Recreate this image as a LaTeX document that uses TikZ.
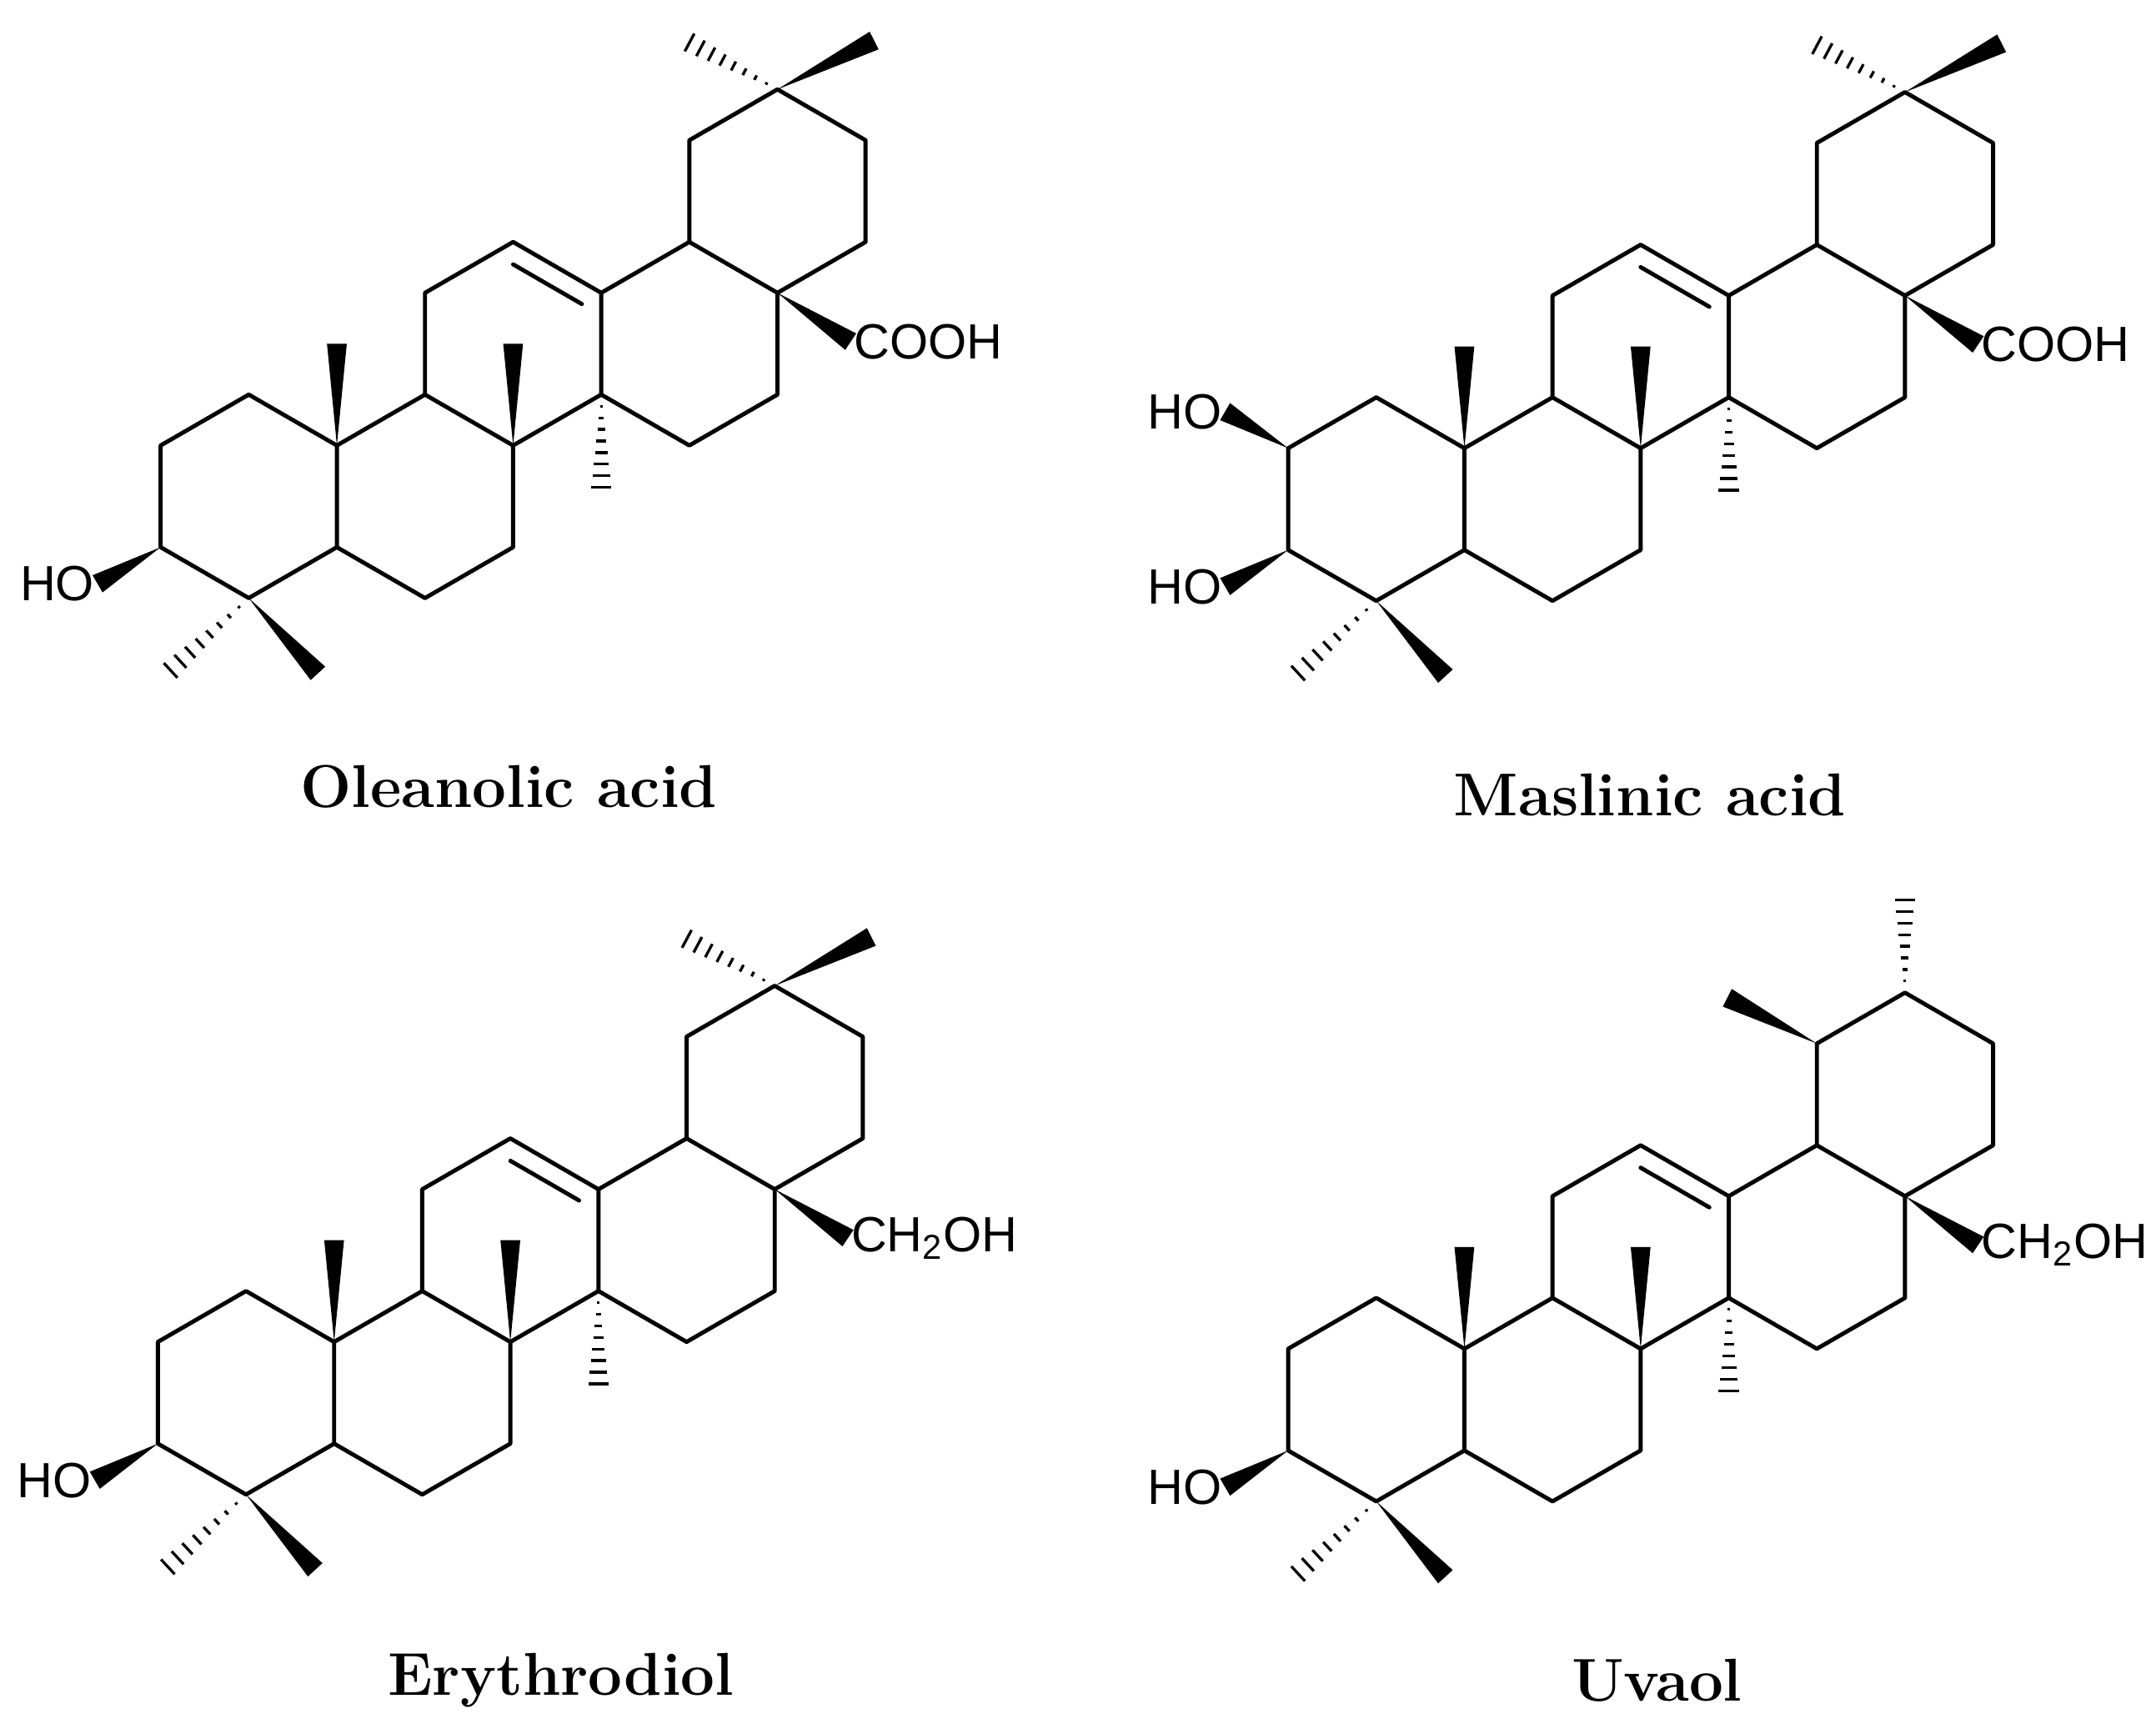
\documentclass[tikz,border=0pt]{standalone}
\usepackage{fontspec}
\newfontfamily\af{Liberation Sans}
\usetikzlibrary{calc}
\tikzset{bond/.style={line width=1.5pt,line join=round,line cap=round},
 atom/.style={font=\af\fontsize{18}{20}\selectfont,inner sep=1pt},
 title/.style={font=\bfseries\fontsize{22}{24}\selectfont}}
\newcommand\wdg[2]{\fill (#1) -- ($(#2)!3.6pt!90:(#1)$) -- ($(#2)!3.6pt!-90:(#1)$) -- cycle;}
\newcommand\hsh[2]{\foreach \t in {0.12,0.24,...,1.0}{\pgfmathsetmacro\w{\t*3.8}
 \coordinate (hm) at ($(#1)!\t!(#2)$);
 \draw[line width=1pt] ($(hm)!\w pt!90:(#1)$) -- ($(hm)!\w pt!-90:(#1)$);}}
\newcommand\skel{%
 \coordinate (C5) at (0,0); \coordinate (C10) at (0,1);
 \coordinate (C1) at (-0.866,1.5); \coordinate (C2) at (-1.732,1);
 \coordinate (C3) at (-1.732,0); \coordinate (C4) at (-0.866,-0.5);
 \coordinate (C9) at (0.866,1.5); \coordinate (C8) at (1.732,1);
 \coordinate (C7) at (1.732,0); \coordinate (C6) at (0.866,-0.5);
 \coordinate (C11) at (0.866,2.5); \coordinate (C12) at (1.732,3);
 \coordinate (C13) at (2.598,2.5); \coordinate (C14) at (2.598,1.5);
 \coordinate (C18) at (3.464,3); \coordinate (C17) at (4.330,2.5);
 \coordinate (C16) at (4.330,1.5); \coordinate (C15) at (3.464,1);
 \coordinate (C19) at (3.464,4); \coordinate (C20) at (4.330,4.5);
 \coordinate (C21) at (5.196,4); \coordinate (C22) at (5.196,3);
 \coordinate (cC) at (1.732,2);
 \draw[bond] (C1)--(C2)--(C3)--(C4)--(C5)--(C10)--cycle;
 \draw[bond] (C10)--(C9)--(C8)--(C7)--(C6)--(C5);
 \draw[bond] (C9)--(C11)--(C12)--(C13)--(C14)--(C8);
 \draw[bond] (C13)--(C18)--(C17)--(C16)--(C15)--(C14);
 \draw[bond] (C18)--(C19)--(C20)--(C21)--(C22)--(C17);
 \draw[bond] ($(C12)!0.22!(cC)$)--($(C13)!0.22!(cC)$);
 % common substituents
 \coordinate (o3) at ($(C3)+(-0.62,-0.36)$); \wdg{C3}{o3}
 \node[atom,anchor=east] at (o3) {HO};
 \coordinate (m4a) at ($(C4)+(0.68,-0.74)$); \wdg{C4}{m4a}
 \coordinate (m4b) at ($(C4)+(-0.8,-0.74)$); \hsh{C4}{m4b}
 \coordinate (m10) at ($(C10)+(0,1)$); \wdg{C10}{m10}
 \coordinate (m8) at ($(C8)+(0,1)$); \wdg{C8}{m8}
 \coordinate (m14) at ($(C14)+(0,-0.95)$); \hsh{C14}{m14}
 \coordinate (s17) at ($(C17)+(0.72,-0.48)$); \wdg{C17}{s17}
}
\newcommand\gemdi{%
 \coordinate (m20a) at ($(C20)+(0.95,0.48)$); \wdg{C20}{m20a}
 \coordinate (m20b) at ($(C20)+(-0.9,0.48)$); \hsh{C20}{m20b}}
\begin{document}
\begin{tikzpicture}[x=0.5pt,y=-0.5pt]
\useasboundingbox (0,0) rectangle (1568,1257);
\begin{scope}[shift={(245,398)},x=37pt,y=37pt]
 \skel \gemdi
 \node[atom,anchor=west] at (s17) {COOH};
\end{scope}
\begin{scope}[shift={(1065,400)},x=37pt,y=37pt]
 \skel \gemdi
 \node[atom,anchor=west] at (s17) {COOH};
 \coordinate (o2) at ($(C2)+(-0.62,0.36)$); \wdg{C2}{o2}
 \node[atom,anchor=east] at (o2) {HO};
\end{scope}
\begin{scope}[shift={(243,1050)},x=37pt,y=37pt]
 \skel \gemdi
 \node[atom,anchor=west] at (s17) {CH\textsubscript{2}OH};
\end{scope}
\begin{scope}[shift={(1065,1055)},x=37pt,y=37pt]
 \skel
 \node[atom,anchor=west] at (s17) {CH\textsubscript{2}OH};
 \coordinate (m19) at ($(C19)+(-0.88,0.45)$); \wdg{C19}{m19}
 \coordinate (m20) at ($(C20)+(0,0.95)$); \hsh{C20}{m20}
\end{scope}
\node[title] (t1) at (370,572) {Oleanolic acid};
\node[title] (t2) at (1200,578) {Maslinic acid};
\node[title] (t3) at (408,1222) {Erythrodiol};
\node[title] (t4) at (1205,1222) {Uvaol};
\end{tikzpicture}
\end{document}
